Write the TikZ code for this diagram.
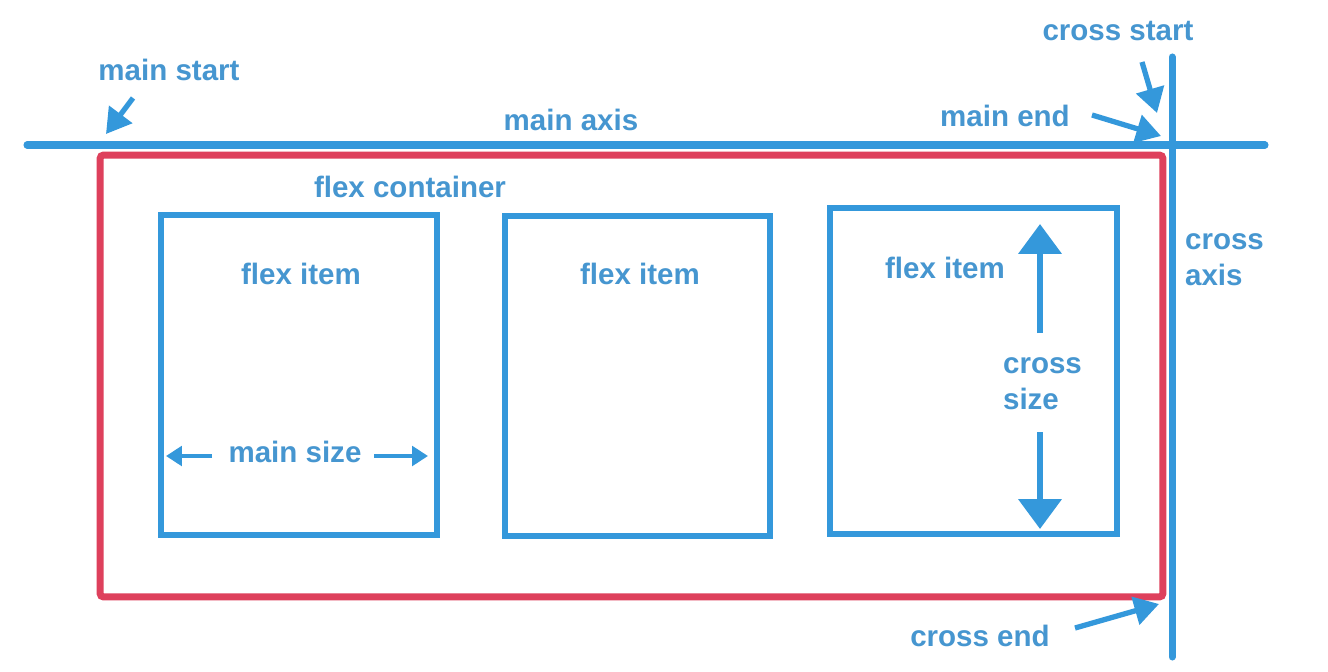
\documentclass[tikz,border=0pt]{standalone}
\usepackage{fontspec}
\setmainfont{Liberation Sans}
\usetikzlibrary{arrows.meta,positioning}
\definecolor{axisblue}{RGB}{52,152,219}
\definecolor{labelblue}{RGB}{70,150,208}
\definecolor{boxred}{RGB}{222,64,92}

\begin{document}
\begin{tikzpicture}[
  x=0.02cm, y=-0.02cm,
  font=\fontsize{16.8}{20.4}\selectfont\bfseries,
  lbl/.style={text=labelblue, inner sep=1pt, align=left},
  axisline/.style={draw=axisblue, line width=4pt, line cap=round},
  item/.style={draw=axisblue, line width=3.4pt, minimum width=#1, minimum height=6.4cm},
  container/.style={draw=boxred, line width=4pt, rounded corners=2pt,
    minimum width=21.26cm, minimum height=8.84cm},
  pointer/.style={draw=axisblue, line width=3pt, -{Triangle[length=14pt,width=16pt]}},
  smallptr/.style={draw=axisblue, line width=2.8pt, -{Triangle[length=9pt,width=11pt]}},
  bigptr/.style={draw=axisblue, line width=3.6pt, -{Triangle[length=17pt,width=24pt]}}
]
\useasboundingbox[fill=white] (0,0) rectangle (1328,672);

% axes
\coordinate (axisL) at (27,145);
\coordinate (axisR) at (1265,145);
\coordinate (crossT) at (1172,57);
\coordinate (crossB) at (1172,657);
\draw[axisline] (axisL) -- (axisR);
\draw[axisline] (crossT) -- (crossB);

% container and items
\node[container] (box) at (631.5,376) {};
\node[item=5.52cm] (item1) at (299,375) {};
\node[item=5.30cm] (item2) at (637.5,376) {};
\node[item=5.74cm, minimum height=6.52cm] (item3) at (973.5,371) {};

\node[lbl] (boxlbl) at (410,187) {flex container};
\node[lbl] (lbl1) at (301,274) {flex item};
\node[lbl] (lbl2) at (640,274) {flex item};
\node[lbl] (lbl3) at (945,268) {flex item};

% axis labels
\node[lbl] (mstart) at (169,70) {main start};
\node[lbl] (maxis) at (571,120) {main axis};
\node[lbl] (mend) at (1005,116) {main end};
\node[lbl] (cstart) at (1118,31) {cross start};
\node[lbl, anchor=west] (caxis) at (1183,260) {cross\\axis};
\node[lbl] (cend) at (980,636) {cross end};
\node[lbl] (msize) at (295,452) {main size};
\node[lbl, anchor=west] (csize) at (1001,384) {cross\\size};

% pointers
\coordinate (ms1) at (133,98);  \coordinate (ms2) at (106,134);
\coordinate (cs1) at (1142,62); \coordinate (cs2) at (1157,113);
\coordinate (me1) at (1092,115); \coordinate (me2) at (1161,136);
\coordinate (ce1) at (1075,628); \coordinate (ce2) at (1159,604);
\draw[pointer] (ms1) -- (ms2);
\draw[pointer] (cs1) -- (cs2);
\draw[pointer] (me1) -- (me2);
\draw[pointer] (ce1) -- (ce2);

\coordinate (mz1) at (212,456); \coordinate (mz2) at (166,456);
\coordinate (mz3) at (374,456); \coordinate (mz4) at (428,456);
\draw[smallptr] (mz1) -- (mz2);
\draw[smallptr] (mz3) -- (mz4);

\coordinate (cz1) at (1040,333); \coordinate (cz2) at (1040,224);
\coordinate (cz3) at (1040,432); \coordinate (cz4) at (1040,529);
\draw[bigptr] (cz1) -- (cz2);
\draw[bigptr] (cz3) -- (cz4);
\end{tikzpicture}
\end{document}
